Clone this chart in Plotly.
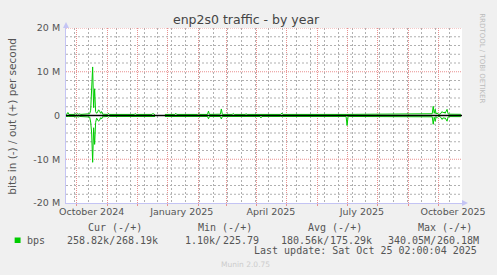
import plotly.graph_objects as go
import pandas as pd

# ---- data (Mbit/s, daily samples) ----
dates = ["2024-09-20", "2024-09-21", "2024-09-22", "2024-09-23", "2024-09-29", "2024-09-30",
         "2024-10-01", "2024-10-02", "2024-10-03", "2024-10-04", "2024-10-05", "2024-10-13",
         "2024-10-14", "2024-10-15", "2024-10-16", "2024-10-17", "2024-10-18", "2024-10-19",
         "2024-10-20", "2024-10-21", "2024-10-22", "2024-10-23", "2024-10-24", "2024-10-25",
         "2024-10-26", "2024-10-27", "2024-11-01", "2024-11-02", "2024-11-03", "2024-11-28",
         "2024-11-29", "2024-11-30", "2024-12-16", "2024-12-17", "2024-12-18", "2024-12-19",
         "2024-12-24", "2024-12-29", "2025-01-08", "2025-01-09", "2025-01-10", "2025-01-31",
         "2025-02-01", "2025-02-02", "2025-02-10", "2025-02-11", "2025-02-12", "2025-02-23",
         "2025-02-24", "2025-02-25", "2025-03-07", "2025-03-08", "2025-03-09", "2025-03-20",
         "2025-03-21", "2025-03-22", "2025-04-04", "2025-04-05", "2025-04-06", "2025-04-25",
         "2025-04-26", "2025-04-27", "2025-06-30", "2025-07-01", "2025-07-02", "2025-09-24",
         "2025-09-25", "2025-09-26", "2025-09-27", "2025-09-28", "2025-09-29", "2025-09-30",
         "2025-10-01", "2025-10-03", "2025-10-04", "2025-10-05", "2025-10-06", "2025-10-07",
         "2025-10-08", "2025-10-09", "2025-10-10", "2025-10-11", "2025-10-12", "2025-10-24"]
out_mbps = [0.25, 0.30, 0.70, 0.25, 0.25, 0.45,
            0.25, 0.45, 0.25, 0.40, 0.25, 0.25,
            0.40, 1.20, 5.50, 11.10, 1.80, 6.10,
            0.90, 0.50, 0.80, 1.30, 1.00, 0.50,
            0.90, 0.30, 0.25, 0.50, 0.25, 0.25,
            0.45, 0.25, 0.25, 0.50, 0.25, 0.25,
            None, 0.25, 0.25, 0.50, 0.25, 0.25,
            0.45, 0.25, 0.25, 1.00, 0.25, 0.30,
            1.50, 0.25, 0.25, 0.45, 0.25, 0.25,
            0.40, 0.25, 0.25, 0.30, 0.25, 0.25,
            0.55, 0.25, 0.25, 0.25, 0.25, 0.25,
            0.40, 2.10, 0.50, 1.40, 0.35, 0.60,
            0.30, 0.30, 0.70, 0.90, 0.60, 0.80,
            0.50, 0.90, 1.40, 0.40, 0.30, 0.27]
in_mbps = [0.22, 0.25, 0.35, 0.22, 0.22, 0.40,
           0.40, 0.22, 0.35, 0.22, 0.22, 0.22,
           0.35, 1.50, 4.00, 10.70, 2.80, 6.60,
           1.60, 0.60, 0.90, 1.30, 1.10, 0.50,
           0.80, 0.30, 0.22, 0.40, 0.22, 0.22,
           0.35, 0.22, 0.22, 0.35, 0.22, 0.22,
           None, 0.22, 0.22, 0.35, 0.22, 0.22,
           0.35, 0.22, 0.22, 0.75, 0.22, 0.22,
           0.80, 0.22, 0.22, 0.30, 0.22, 0.22,
           0.30, 0.22, 0.22, 0.55, 0.22, 0.22,
           0.25, 0.22, 0.22, 2.30, 0.22, 0.22,
           0.30, 2.00, 0.40, 1.30, 0.30, 0.50,
           0.25, 0.25, 0.60, 0.90, 0.50, 0.70,
           0.50, 0.90, 1.30, 0.35, 0.25, 0.26]

y_tickvals = [-20, -10, 0, 10, 20]
y_ticktext = ["-20 M", "-10 M", "0", "10 M", "20 M"]
x_label_dates = ["2024-10-16", "2025-01-15", "2025-04-15", "2025-07-16", "2025-10-16"]
x_label_text = ["October 2024", "January 2025", "April 2025", "July 2025", "October 2025"]
x_range = ["2024-09-20 02:00", "2025-10-25 02:00"]

legend_headers = ["Cur (-/+)", "Min (-/+)", "Avg (-/+)", "Max (-/+)"]
legend_in = ["258.82k/", "1.10k/", "180.56k/", "340.05M/"]
legend_out = ["268.19k", "225.79", "175.29k", "260.18M"]
series_name = "bps"
last_update = "Last update: Sat Oct 25 02:00:04 2025"

# ---- styling ----
GREEN = "#00CC00"
BG = "#F0F0F0"
RED_GRID = "#E89090"
GRAY_GRID = "#B0B0B0"
AXIS = "#C4C4F4"
TXT = "#555555"
DOT = "1px,1px"
GDOT = "2px,2px"

month_starts = [d.strftime("%Y-%m-%d") for d in pd.date_range("2024-10-01", "2025-10-01", freq="MS")]
grid14 = [d.strftime("%Y-%m-%d") for d in pd.date_range("2024-09-29", "2025-10-24", freq="14D")]
y_minor = [v for v in range(-18, 20, 2) if v % 10 != 0]
y_major = [-10, 10, 20]

L, T, R, B = 66, 28, 467, 203
W, H = 497, 275
MONO_W = 6.02  # char width of DejaVu Sans Mono at 10px


def px(x):
    return (x - L) / (R - L)


def py(y):
    return (B - y) / (B - T)


def ann(text, x, y, size=10, color=TXT, family="DejaVu Sans Mono", xanchor="left", angle=0):
    return dict(text=text, x=px(x), y=py(y), xref="paper", yref="paper",
                xanchor=xanchor, yanchor="middle", showarrow=False, textangle=angle,
                borderpad=0, borderwidth=0,
                font=dict(family=family, size=size, color=color))


def hlines(levels):
    xs, ys = [], []
    for v in levels:
        xs += [x_range[0], x_range[1], None]
        ys += [v, v, None]
    return xs, ys


fig = go.Figure()
# empty helper trace so the overlay axis (14-day grid) gets drawn
fig.add_trace(go.Scatter(x=[], y=[], xaxis="x2", yaxis="y2", hoverinfo="skip"))
# horizontal grid lines
gx, gy = hlines(y_minor)
fig.add_trace(go.Scatter(x=gx, y=gy, mode="lines", hoverinfo="skip",
                         line=dict(color=GRAY_GRID, width=1, dash=GDOT)))
rx, ry = hlines(y_major)
fig.add_trace(go.Scatter(x=rx, y=ry, mode="lines", hoverinfo="skip",
                         line=dict(color=RED_GRID, width=1, dash=DOT)))
# data
fig.add_trace(go.Scatter(x=dates, y=out_mbps, mode="lines", connectgaps=False,
                         line=dict(color=GREEN, width=1), hoverinfo="skip"))
fig.add_trace(go.Scatter(x=dates, y=[(-v if v is not None else None) for v in in_mbps],
                         mode="lines", connectgaps=False,
                         line=dict(color=GREEN, width=1), hoverinfo="skip"))

shapes = []
# zero line
shapes.append(dict(type="line", xref="paper", yref="y", x0=0, x1=1, y0=0, y1=0,
                   layer="above", line=dict(color="#000000", width=1.5)))
# axis arrows
shapes.append(dict(type="path", xref="paper", yref="paper", xsizemode="pixel", ysizemode="pixel",
                   xanchor=0, yanchor=1, path="M -3,0 L 3,0 L 0,6 Z",
                   fillcolor=AXIS, line=dict(width=0), layer="above"))
shapes.append(dict(type="path", xref="paper", yref="paper", xsizemode="pixel", ysizemode="pixel",
                   xanchor=1, yanchor=0, path="M 0,-3 L 0,3 L 6,0 Z",
                   fillcolor=AXIS, line=dict(width=0), layer="above"))
# legend swatch
shapes.append(dict(type="rect", xref="paper", yref="paper",
                   x0=px(14), x1=px(20), y0=py(243), y1=py(237.5),
                   fillcolor=GREEN, line=dict(width=0)))

annotations = [
    ann("enp2s0 traffic - by year", 248.5, 20, size=12.5, color="#444444",
        family="DejaVu Sans", xanchor="center"),
    ann("bits in (-) / out (+) per second", 11, 116, size=10.5, color=TXT,
        family="DejaVu Sans", xanchor="center", angle=-90),
    ann("RRDTOOL / TOBI OETIKER", 487.5, 58.5, size=7, color="#BBBBBB",
        family="DejaVu Sans", xanchor="center", angle=90),
    ann("Munin 2.0.75", 248, 264.3, size=7.5, color="#CCCCCC",
        family="DejaVu Sans", xanchor="center"),
]
header_x = [116, 227, 338.5, 449.7]
in_x = [66.7, 186.7, 283.3, 391.7]
for h, hx in zip(legend_headers, header_x):
    annotations.append(ann(h, hx, 227.7, xanchor="center"))
annotations.append(ann(series_name, 26.7, 240))
for a, b, x in zip(legend_in, legend_out, in_x):
    annotations.append(ann(a, x, 240))
    annotations.append(ann(b, x + len(a) * MONO_W + 2, 240))
annotations.append(ann(last_update, 482.3, 250.7, xanchor="right"))

fig.update_layout(
    width=W, height=H,
    margin=dict(l=L, r=W - R, t=T, b=H - B, pad=0),
    paper_bgcolor=BG, plot_bgcolor="white",
    showlegend=False,
    shapes=shapes, annotations=annotations,
    xaxis=dict(type="date", range=x_range, tickmode="array", tickvals=x_label_dates,
               ticktext=x_label_text, showgrid=False, zeroline=False, ticks="",
               showline=True, linecolor=AXIS, linewidth=1,
               tickfont=dict(family="DejaVu Sans", size=9.5, color=TXT),
               minor=dict(tickmode="array", tickvals=month_starts, showgrid=True,
                          gridcolor=RED_GRID, griddash=DOT, gridwidth=1,
                          ticks="outside", ticklen=2, tickcolor=RED_GRID),
               fixedrange=True, layer="below traces"),
    xaxis2=dict(type="date", range=x_range, overlaying="x", anchor="y", side="bottom",
                tickmode="array", tickvals=grid14, showticklabels=False, ticks="",
                showgrid=True, gridcolor=GRAY_GRID, griddash=GDOT, gridwidth=1,
                zeroline=False, showline=False, fixedrange=True),
    yaxis=dict(range=[-20, 20], tickmode="array", tickvals=y_tickvals, ticktext=y_ticktext,
               showgrid=False, zeroline=False, showline=True, linecolor=AXIS, linewidth=1,
               ticks="outside", ticklen=3, tickcolor="rgba(0,0,0,0)",
               tickfont=dict(family="DejaVu Sans", size=9.5, color=TXT),
               fixedrange=True),
    yaxis2=dict(range=[-20, 20], overlaying="y", anchor="x2", showgrid=False,
                showticklabels=False, ticks="", zeroline=False, showline=False,
                fixedrange=True),
)

fig.write_html("out.html")
